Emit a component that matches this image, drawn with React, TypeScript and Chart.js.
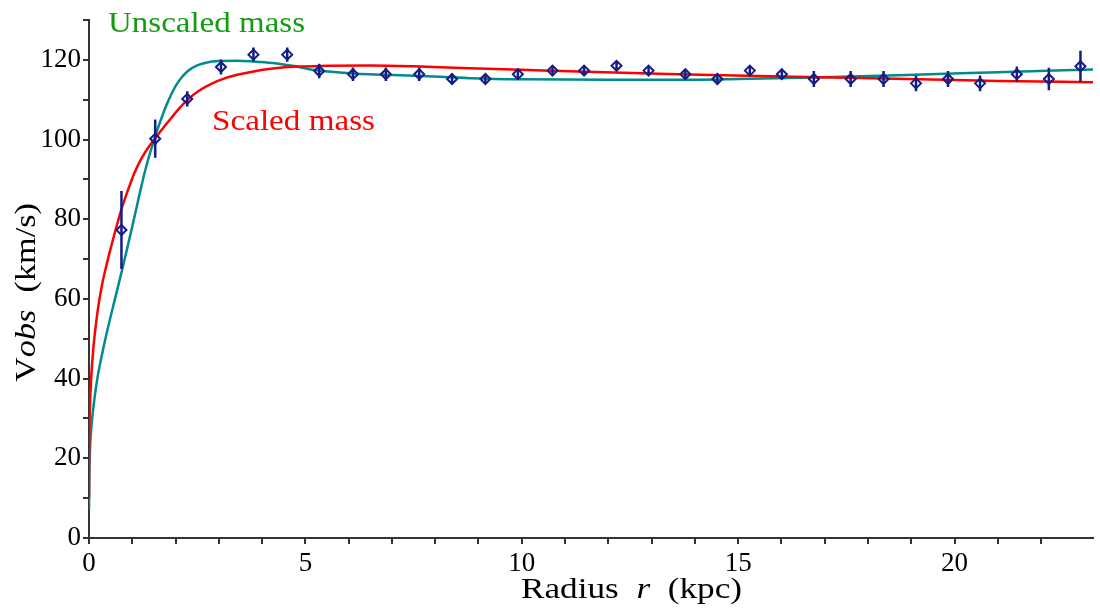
import React, { useEffect, useRef } from "react";
import { Chart, registerables } from "chart.js";

Chart.register(...registerables);

// Observed data
const radius = [0.75, 1.53, 2.27, 3.05, 3.80, 4.58, 5.32, 6.10, 6.86, 7.63, 8.39, 9.16, 9.91, 10.71, 11.44, 12.19, 12.93, 13.78, 14.52, 15.27, 16.01, 16.75, 17.60, 18.36, 19.11, 19.85, 20.59, 21.44, 22.18, 22.91];
const vobs = [77.3, 100.2, 110.2, 118.2, 121.3, 121.3, 117.2, 116.4, 116.4, 116.4, 115.2, 115.2, 116.4, 117.3, 117.3, 118.5, 117.3, 116.4, 115.2, 117.3, 116.4, 115.2, 115.2, 115.2, 114.1, 115.2, 114.1, 116.4, 115.2, 118.4];
const verr = [9.8, 4.8, 1.9, 1.9, 1.8, 1.8, 1.8, 1.7, 1.7, 1.7, 1.0, 1.0, 1.0, 1.0, 1.0, 1.0, 1.0, 1.0, 1.3, 1.0, 1.0, 2.0, 2.0, 2.0, 2.0, 2.0, 2.0, 1.9, 2.8, 3.9];

// Unscaled mass curve (teal)
const unscaledR = [0, 0.01, 0.03, 0.06, 0.12, 0.2, 0.3, 0.4, 0.5, 0.6, 0.7, 0.8, 0.9, 1.0, 1.1, 1.2, 1.3, 1.4, 1.5, 1.6, 1.7, 1.8, 1.9, 2.0, 2.15, 2.3, 2.5, 2.75, 3.0, 3.4, 3.8, 4.25, 4.7, 5.3, 6.1, 7.6, 8.8, 10, 12, 13.6, 15, 16.75, 18.9, 21, 23.2];
const unscaledV = [7, 17, 24, 28.5, 34.5, 40.5, 46, 51, 55.6, 60, 64.4, 68.9, 73.5, 78.2, 83, 87.8, 92.3, 96.2, 99.8, 103.1, 106.1, 108.9, 111.3, 113.4, 115.7, 117.3, 118.6, 119.4, 119.7, 119.8, 119.6, 119.2, 118.5, 117.3, 116.6, 116.0, 115.4, 115.1, 115.0, 115.0, 115.2, 115.6, 116.2, 116.9, 117.6];

// Scaled mass curve (red)
const scaledR = [0, 0.005, 0.02, 0.05, 0.1, 0.2, 0.3, 0.4, 0.5, 0.6, 0.75, 0.9, 1.05, 1.2, 1.35, 1.53, 1.7, 1.9, 2.1, 2.3, 2.55, 2.85, 3.15, 3.45, 3.8, 4.25, 4.8, 5.5, 6.5, 7.5, 8.8, 10, 11.5, 13.6, 16, 18.9, 21, 23.2];
const scaledV = [10, 22, 32, 40, 47.5, 57, 63.5, 68.3, 72.7, 76.8, 82.5, 87.3, 91.6, 95.0, 97.7, 100.3, 102.7, 105.4, 108.0, 110.2, 112.3, 114.1, 115.4, 116.3, 117.1, 117.8, 118.3, 118.5, 118.6, 118.4, 117.9, 117.5, 117.0, 116.4, 115.8, 115.2, 114.7, 114.4];

const xMin = 0;
const xMax = 23.2;
const yMin = 0;
const yMax = 130;

const SERIF = "'Liberation Serif', 'Times New Roman', Times, serif";

type Part = { t: string; italic?: boolean };

function drawParts(ctx: CanvasRenderingContext2D, parts: Part[], size: number, color: string, cx: number, cy: number, targetW: number, rotate: boolean) {
  ctx.save();
  let total = 0;
  const widths: number[] = [];
  parts.forEach((p) => {
    ctx.font = `${p.italic ? "italic " : ""}${size}px ${SERIF}`;
    const w = ctx.measureText(p.t).width;
    widths.push(w);
    total += w;
  });
  const sx = targetW / total;
  ctx.translate(cx, cy);
  if (rotate) ctx.rotate(-Math.PI / 2);
  ctx.scale(sx, 1);
  ctx.fillStyle = color;
  ctx.textBaseline = "middle";
  ctx.textAlign = "left";
  let x = -total / 2;
  parts.forEach((p, i) => {
    ctx.font = `${p.italic ? "italic " : ""}${size}px ${SERIF}`;
    ctx.fillText(p.t, x, 0);
    x += widths[i];
  });
  ctx.restore();
}

const textPlugin = {
  id: "texts",
  afterDraw(chart: any) {
    const ctx = chart.ctx as CanvasRenderingContext2D;
    drawParts(ctx, [{ t: "Unscaled mass" }], 30, "#129c12", 206.5, 24, 197, false);
    drawParts(ctx, [{ t: "Scaled mass" }], 30, "#ff0000", 293.5, 122, 163, false);
    drawParts(ctx, [{ t: "Radius" }, { t: "  " }, { t: "r", italic: true }, { t: "  " }, { t: "(kpc)" }], 30, "#000", 631.5, 590, 221, false);
    drawParts(ctx, [{ t: "V" }, { t: "obs", italic: true }, { t: "  " }, { t: "(km/s)" }], 30, "#000", 27, 292.5, 179, true);
  },
};

export default function App() {
  const ref = useRef<HTMLCanvasElement | null>(null);
  useEffect(() => {
    if (!ref.current) return;
    const errData: any[] = [];
    radius.forEach((r, i) => {
      errData.push({ x: r, y: vobs[i] - verr[i] });
      errData.push({ x: r, y: vobs[i] + verr[i] });
      errData.push({ x: r, y: null });
    });
    const chart = new Chart(ref.current, {
      type: "line",
      data: {
        datasets: [
          {
            label: "Observed",
            data: radius.map((r, i) => ({ x: r, y: vobs[i] })),
            showLine: false,
            pointStyle: "rectRot",
            pointRadius: 5,
            pointBorderWidth: 2,
            pointBorderColor: "#141c85",
            pointBackgroundColor: "rgba(0,0,0,0)",
            borderColor: "#141c85",
            order: 0,
          },
          {
            label: "Error",
            data: errData,
            borderColor: "#141c85",
            borderWidth: 2.5,
            pointRadius: 0,
            spanGaps: false,
            order: 1,
          },
          {
            label: "Scaled mass",
            data: scaledR.map((r, i) => ({ x: r, y: scaledV[i] })),
            borderColor: "#ff0000",
            borderWidth: 2.5,
            pointRadius: 0,
            cubicInterpolationMode: "monotone",
            order: 2,
          },
          {
            label: "Unscaled mass",
            data: unscaledR.map((r, i) => ({ x: r, y: unscaledV[i] })),
            borderColor: "#008c8c",
            borderWidth: 2.5,
            pointRadius: 0,
            cubicInterpolationMode: "monotone",
            order: 3,
          },
        ],
      },
      options: {
        animation: false,
        responsive: false,
        devicePixelRatio: 1,
        layout: { padding: { top: 20, right: 5, left: 0, bottom: 0 } },
        plugins: { legend: { display: false }, tooltip: { enabled: false } },
        scales: {
          x: {
            type: "linear",
            min: xMin,
            max: xMax,
            afterBuildTicks: (scale: any) => {
              scale.ticks = scale.ticks.filter((t: any) => Number.isInteger(t.value));
            },
            afterFit: (scale: any) => {
              scale.height = 73;
            },
            ticks: {
              stepSize: 1,
              autoSkip: false,
              maxRotation: 0,
              padding: 4,
              color: "#000",
              font: { family: SERIF, size: 27 },
              callback: (v: any) => (Number(v) % 5 === 0 ? String(v) : ""),
            },
            grid: { drawOnChartArea: false, drawTicks: true, tickLength: 6, color: "#333", lineWidth: 2 },
            border: { display: true, color: "#333", width: 2 },
          },
          y: {
            type: "linear",
            min: yMin,
            max: yMax,
            afterFit: (scale: any) => {
              scale.width = 89;
            },
            ticks: {
              stepSize: 10,
              autoSkip: false,
              padding: 2,
              color: "#000",
              font: { family: SERIF, size: 27 },
              callback: (v: any) => (Number(v) % 20 === 0 && Number(v) <= 120 ? String(v) : ""),
            },
            grid: { drawOnChartArea: false, drawTicks: true, tickLength: 6, color: "#333", lineWidth: 2 },
            border: { display: true, color: "#333", width: 2 },
          },
        },
      },
      plugins: [textPlugin],
    } as any);
    return () => chart.destroy();
  }, []);
  return (
    <div style={{ position: "fixed", left: 0, top: 0, width: 1100, height: 611, background: "#fff" }}>
      <canvas ref={ref} width={1100} height={611} style={{ width: 1100, height: 611, display: "block" }} />
    </div>
  );
}
